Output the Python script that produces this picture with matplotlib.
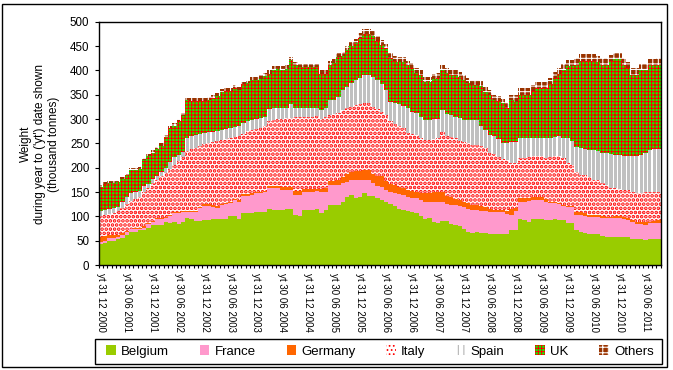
import numpy as np
import matplotlib
matplotlib.use('Agg')
import matplotlib.pyplot as plt
from matplotlib.patches import Patch, Rectangle

plt.rcParams['font.family'] = ['Liberation Sans', 'DejaVu Sans']
plt.rcParams['hatch.linewidth'] = 0.75

# ---- data (thousand tonnes), monthly year-to-date, Dec 2000 .. Sep 2011 ----
belgium = [44, 46, 49, 49, 53, 56, 62, 68, 68, 72, 72, 77,
           82, 82, 82, 88, 87, 88, 84, 88, 96, 94, 90, 90,
           92, 92, 94, 94, 94, 95, 101, 101, 95, 106, 106, 106,
           109, 109, 109, 116, 114, 114, 113, 116, 116, 103, 101, 113,
           113, 113, 116, 106, 113, 123, 123, 123, 130, 140, 144, 137,
           140, 147, 142, 142, 137, 134, 130, 125, 121, 116, 113, 110,
           108, 106, 100, 95, 97, 89, 87, 90, 90, 84, 82, 80,
           73, 68, 65, 68, 65, 65, 64, 64, 64, 64, 64, 71,
           71, 94, 92, 89, 95, 95, 95, 93, 92, 95, 93, 92,
           87, 87, 71, 68, 66, 64, 64, 64, 60, 58, 58, 58,
           58, 58, 58, 53, 53, 53, 51, 53, 53, 53]
france = [3, 4, 6, 6, 4, 6, 5, 5, 5, 2, 5, 7,
          7, 12, 12, 8, 14, 18, 22, 21, 13, 15, 18, 28,
          30, 30, 26, 24, 29, 30, 26, 32, 35, 36, 36, 38,
          38, 38, 41, 42, 44, 44, 42, 38, 38, 41, 43, 38,
          38, 38, 36, 44, 38, 41, 41, 41, 38, 31, 31, 38,
          35, 28, 33, 26, 26, 26, 25, 25, 26, 29, 30, 30,
          30, 31, 33, 35, 33, 41, 43, 40, 35, 39, 41, 42,
          47, 47, 48, 45, 47, 45, 44, 44, 44, 44, 41, 32,
          40, 36, 38, 43, 39, 39, 39, 37, 35, 33, 32, 29,
          32, 32, 32, 35, 35, 35, 35, 35, 36, 38, 38, 38,
          38, 36, 34, 35, 32, 31, 31, 33, 33, 33]
germany = [11, 10, 6, 6, 4, 3, 3, 2, 3, 3, 3, 2,
           2, 2, 3, 3, 2, 2, 3, 2, 2, 2, 2, 2,
           3, 3, 3, 3, 3, 3, 3, 3, 3, 3, 3, 3,
           3, 3, 3, 5, 4, 4, 5, 7, 6, 8, 8, 5,
           5, 5, 5, 6, 8, 8, 8, 10, 12, 15, 16, 18,
           18, 20, 20, 19, 20, 22, 17, 16, 17, 15, 15, 15,
           14, 14, 15, 17, 17, 19, 20, 21, 17, 17, 13, 12,
           10, 13, 10, 10, 9, 10, 7, 5, 5, 5, 7, 12,
           7, 7, 7, 6, 5, 5, 5, 5, 3, 2, 3, 3,
           3, 3, 5, 5, 5, 4, 4, 4, 4, 3, 3, 4,
           5, 5, 4, 4, 4, 5, 7, 3, 4, 7]
italy = [42, 43, 44, 46, 49, 53, 55, 57, 60, 63, 70, 72,
         77, 79, 85, 91, 95, 98, 105, 111, 123, 127, 131, 124,
         123, 125, 129, 133, 130, 130, 132, 128, 132, 125, 130, 130,
         130, 132, 132, 132, 136, 138, 141, 141, 143, 153, 153, 149,
         149, 149, 149, 144, 146, 136, 138, 138, 138, 136, 133, 135,
         137, 137, 137, 138, 137, 133, 136, 129, 126, 126, 124, 117,
         118, 117, 114, 110, 110, 109, 110, 123, 124, 124, 126, 121,
         123, 122, 124, 124, 124, 120, 115, 115, 109, 105, 104, 94,
         91, 82, 82, 83, 84, 84, 84, 85, 92, 93, 95, 96,
         87, 83, 84, 77, 79, 77, 72, 72, 68, 65, 59, 58,
         55, 55, 58, 58, 58, 58, 62, 62, 61, 57]
spain = [12, 10, 10, 10, 10, 12, 15, 15, 14, 13, 12, 8,
         8, 8, 10, 10, 14, 16, 12, 11, 28, 28, 27, 26,
         24, 23, 22, 22, 22, 22, 20, 20, 21, 22, 21, 21,
         20, 20, 20, 25, 24, 22, 21, 21, 27, 17, 17, 17,
         17, 17, 16, 18, 17, 31, 29, 33, 42, 43, 51, 52,
         55, 58, 58, 61, 60, 57, 52, 40, 42, 44, 44, 50,
         45, 44, 43, 41, 41, 42, 41, 44, 44, 44, 43, 48,
         45, 48, 51, 51, 40, 37, 38, 37, 36, 32, 34, 44,
         44, 43, 43, 41, 37, 37, 37, 41, 40, 40, 42, 42,
         51, 50, 51, 55, 53, 56, 61, 59, 63, 67, 71, 69,
         71, 69, 69, 74, 77, 79, 80, 85, 87, 88]
uk = [48, 54, 53, 51, 51, 46, 44, 49, 46, 44, 53, 58,
      55, 55, 53, 63, 69, 64, 69, 74, 77, 72, 70, 68,
      65, 67, 69, 71, 77, 77, 75, 80, 74, 79, 78, 83,
      80, 81, 83, 73, 79, 80, 79, 80, 91, 89, 85, 85,
      84, 84, 84, 75, 71, 73, 76, 82, 70, 77, 75, 76,
      81, 84, 84, 84, 80, 80, 85, 90, 88, 88, 92, 88,
      90, 83, 86, 79, 79, 82, 84, 83, 85, 83, 86, 83,
      82, 77, 72, 72, 83, 78, 82, 75, 79, 82, 73, 86,
      83, 88, 88, 88, 97, 104, 104, 103, 110, 121, 127, 139,
      148, 153, 169, 180, 182, 184, 184, 183, 181, 181, 190, 196,
      196, 189, 182, 167, 167, 175, 170, 174, 172, 174]
others = [4, 4, 4, 4, 4, 4, 4, 4, 4, 4, 4, 4,
          5, 5, 5, 5, 5, 5, 5, 5, 5, 5, 5, 5,
          6, 6, 6, 6, 6, 6, 6, 6, 6, 6, 6, 6,
          7, 7, 7, 7, 7, 7, 7, 7, 7, 7, 7, 7,
          8, 8, 8, 8, 8, 8, 8, 8, 8, 8, 8, 8,
          10, 10, 10, 10, 10, 10, 10, 10, 10, 10, 10, 10,
          10, 10, 10, 10, 10, 10, 10, 10, 10, 10, 10, 10,
          10, 10, 10, 10, 10, 10, 10, 10, 10, 10, 10, 10,
          13, 13, 13, 13, 13, 13, 13, 13, 13, 13, 13, 13,
          13, 13, 13, 13, 13, 13, 13, 13, 13, 13, 13, 13,
          13, 13, 13, 13, 13, 13, 13, 13, 13, 13]

series_names = ['Belgium', 'France', 'Germany', 'Italy', 'Spain', 'UK', 'Others']

tick_labels = ['yt 31 12 2000', 'yt 30 06 2001', 'yt 31 12 2001', 'yt 30 06 2002',
               'yt 31 12 2002', 'yt 30 06 2003', 'yt 31 12 2003', 'yt 30 06 2004',
               'yt 31 12 2004', 'yt 30 06 2005', 'yt 31 12 2005', 'yt 30 06 2006',
               'yt 31 12 2006', 'yt 30 06 2007', 'yt 31 12 2007', 'yt 30 06 2008',
               'yt 31 12 2008', 'yt 30 06 2009', 'yt 31 12 2009', 'yt 30 06 2010',
               'yt 31 12 2010', 'yt 30 06 2011']

# ---- figure ----
W, H = 673, 370
fig = plt.figure(figsize=(W / 100, H / 100), dpi=100)
fig.patch.set_facecolor('white')
ax = fig.add_axes([98.7 / W, (H - 265) / H, 562 / W, 243.3 / H])

n = len(belgium)
x = np.arange(n)
bottom = np.zeros(n)

styles = [
    dict(width=1.0, facecolor='#99CC00', edgecolor='#99CC00', hatch=None, hlw=0.75),
    dict(width=1.0, facecolor='#FF99CC', edgecolor='#FF99CC', hatch=None, hlw=0.75),
    dict(width=1.0, facecolor='#FF6600', edgecolor='#FF6600', hatch=None, hlw=0.75),
    dict(width=1.0, facecolor='white', edgecolor='#FF0000', hatch='....', hlw=1.8),
    dict(width=0.72, facecolor='#C0C0C0', edgecolor='#C0C0C0', hatch=None, hlw=0.75),
    dict(width=1.0, facecolor='#00FF00', edgecolor='#FF0000', hatch='+++++', hlw=0.75),
    dict(width=1.0, facecolor='#993300', edgecolor='white', hatch='+++', hlw=0.75),
]
data = [belgium, france, germany, italy, spain, uk, others]

for vals, st in zip(data, styles):
    v = np.array(vals, dtype=float)
    with plt.rc_context({'hatch.linewidth': st['hlw']}):
        bars = ax.bar(x, v, width=st['width'], bottom=bottom, facecolor=st['facecolor'],
                      edgecolor=st['edgecolor'], hatch=st['hatch'], linewidth=0,
                      antialiased=False, align='center')
    for p in bars:
        if hasattr(p, 'set_hatch_linewidth'):
            p.set_hatch_linewidth(st['hlw'])
    bottom = bottom + v

ax.set_xlim(-0.5, n - 0.5)
ax.set_ylim(0, 500)
ax.set_yticks(np.arange(0, 501, 50))
ax.tick_params(axis='y', direction='out', length=2.7, width=0.8, pad=4,
               labelsize=8.3, colors='black')

tick_pos = np.arange(0, n, 6)[:len(tick_labels)]
ax.set_xticks(tick_pos)
ax.set_xticklabels(tick_labels, rotation=270, fontsize=7, va='top', ha='center')
ax.tick_params(axis='x', which='major', length=0, pad=6)
ax.set_xticks(np.arange(-0.5, n, 1), minor=True)
ax.tick_params(axis='x', which='minor', direction='out', length=2.5, width=0.8)

for s in ax.spines.values():
    s.set_color('black')
    s.set_linewidth(1.0)

fig.text(40 / W, 1 - 144 / H,
         "Weight\nduring year to ('yt') date shown\n(thousand tonnes)",
         rotation=90, ha='center', va='center', fontsize=8.5,
         multialignment='center', linespacing=1.25)

# legend
handles = [
    Patch(facecolor='#99CC00', edgecolor='none'),
    Patch(facecolor='#FF99CC', edgecolor='none'),
    Patch(facecolor='#FF6600', edgecolor='none'),
    Patch(facecolor='white', edgecolor='#FF0000', hatch='....', linewidth=0),
    Patch(facecolor='white', edgecolor='#B0B0B0', hatch='|||', linewidth=0),
    Patch(facecolor='#00FF00', edgecolor='#FF0000', hatch='+++++', linewidth=0),
    Patch(facecolor='#993300', edgecolor='white', hatch='+++', linewidth=0),
]
leg = fig.legend(handles, series_names, loc='center',
                 bbox_to_anchor=(380 / W, 1 - 351.5 / H),
                 bbox_transform=fig.transFigure, ncol=7,
                 fontsize=9.5, frameon=False, borderaxespad=0, handlelength=0.7,
                 handleheight=0.7, handletextpad=0.4, borderpad=0.2,
                 columnspacing=2.35)

fig.patches.append(Rectangle((95 / W, (H - 364) / H), 567 / W, 25 / H,
                             transform=fig.transFigure, fill=False,
                             edgecolor='black', linewidth=1.0))
fig.patches.append(Rectangle((2 / W, 3 / H), 665 / W, 363 / H,
                             transform=fig.transFigure, fill=False,
                             edgecolor='black', linewidth=1.0))

fig.savefig('out.png', dpi=100, facecolor='white')
